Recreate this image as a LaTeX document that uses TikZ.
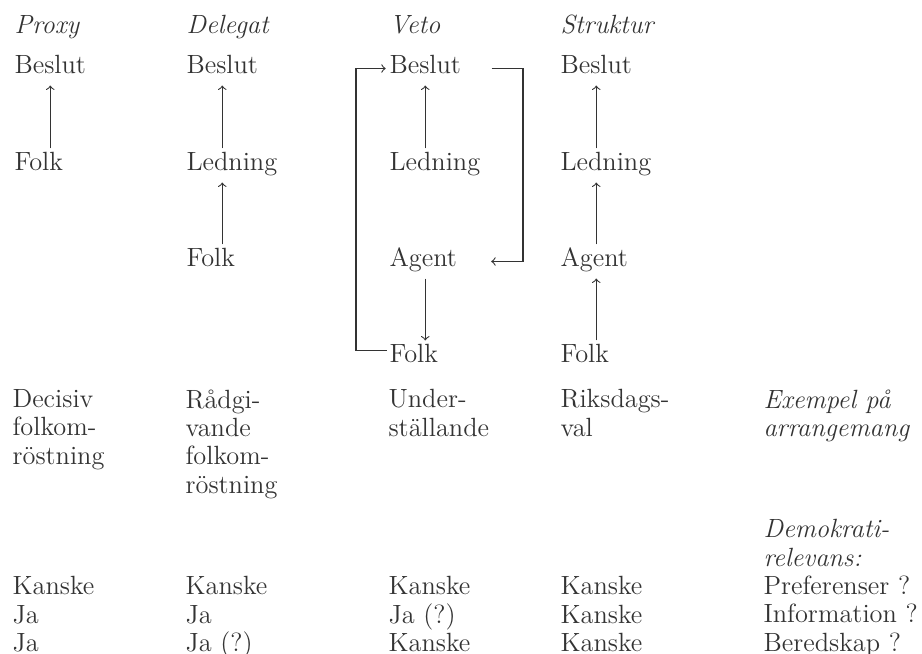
\documentclass[tikz,border=0pt]{standalone}
\usepackage{tikz}
\usetikzlibrary{calc}

\newcommand\bodyfont{\fontsize{12}{12.9}\selectfont}

\tikzset{
  word/.style={anchor=base west, inner sep=0pt, text height=0.7em, text depth=0.2em},
  head/.style={word, font=\bodyfont\itshape},
  block/.style={anchor=north west, inner sep=0pt, align=left},
  link/.style={->, shorten <=3pt, shorten >=3pt},
}

\begin{document}
\begin{tikzpicture}[x=0.16cm, y=-0.16cm, font=\bodyfont, color=black!80, line width=0.5pt]
  \useasboundingbox (0,0) rectangle (92.2,65.4);

  % Headings
  \node[head] (h-proxy) at (1.4,3.4) {Proxy};
  \node[head] (h-delegat) at (18.6,3.4) {Delegat};
  \node[head] (h-veto) at (38.9,3.4) {Veto};
  \node[head] (h-struktur) at (56.0,3.4) {Struktur};

  % Proxy
  \node[word] (p-b) at (1.4,7.4) {Beslut};
  \node[word] (p-f) at (1.4,17.1) {Folk};

  % Delegat
  \node[word] (d-b) at (18.6,7.4) {Beslut};
  \node[word] (d-l) at (18.6,17.1) {Ledning};
  \node[word] (d-f) at (18.6,26.7) {Folk};

  % Veto
  \node[word] (v-b) at (38.9,7.4) {Beslut};
  \node[word] (v-l) at (38.9,17.1) {Ledning};
  \node[word] (v-a) at (38.9,26.7) {Agent};
  \node[word] (v-f) at (38.9,36.3) {Folk};

  % Struktur
  \node[word] (s-b) at (56.0,7.4) {Beslut};
  \node[word] (s-l) at (56.0,17.1) {Ledning};
  \node[word] (s-a) at (56.0,26.7) {Agent};
  \node[word] (s-f) at (56.0,36.3) {Folk};

  % Arrangemang
  \node[block] (p-ex) at (1.2,38.9) {Decisiv\\folkom-\\röstning};
  \node[block] (d-ex) at (18.5,38.9) {Rådgi-\\vande\\folkom-\\röstning};
  \node[block] (v-ex) at (38.8,38.9) {Under-\\ställande};
  \node[block] (s-ex) at (56.0,38.9) {Riksdags-\\val};
  \node[block, font=\bodyfont\itshape] (ex) at (76.3,38.9) {Exempel på\\arrangemang};

  % Demokratirelevans
  \node[block] (p-rel) at (1.2,57.6) {Kanske\\Ja\\Ja};
  \node[block] (d-rel) at (18.5,57.6) {Kanske\\Ja\\Ja (?)};
  \node[block] (v-rel) at (38.8,57.6) {Kanske\\Ja (?)\\Kanske};
  \node[block] (s-rel) at (56.0,57.6) {Kanske\\Kanske\\Kanske};
  \node[block] (rel) at (76.3,51.9) {\textit{Demokrati-}\\\textit{relevans:}\\Preferenser ?\\Information ?\\Beredskap ?};

  % Arrows
  \draw[link] (p-f.north -| p-b) -- (p-b.south);

  \draw[link] (d-l.north -| d-b) -- (d-b.south);
  \draw[link] (d-f.north -| d-b) -- (d-l.south -| d-b);

  \draw[link] (v-l.north -| v-b) -- (v-b.south);
  \draw[link] (v-a.south -| v-b) -- (v-f.north -| v-b);

  \draw[link] (s-l.north -| s-b) -- (s-b.south);
  \draw[link] (s-a.north -| s-b) -- (s-l.south -| s-b);
  \draw[link] (s-f.north -| s-b) -- (s-a.south -| s-b);

  % Veto loops
  \coordinate (v-left) at (35.6,20);
  \coordinate (v-right) at (52.3,20);
  \draw[->, shorten <=1pt, shorten >=1.5pt] ([yshift=3pt]v-f.west) -| (v-left) |- (v-b.west);
  \draw[->] ([xshift=4.8mm]v-b.east) -| (v-right) |- ([xshift=5.4mm]v-a.east);

\end{tikzpicture}
\end{document}
